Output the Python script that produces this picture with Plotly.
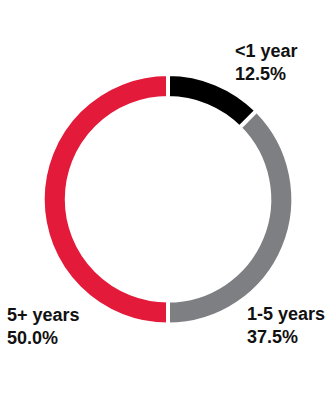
import plotly.graph_objects as go

categories = ["<1 year", "1-5 years", "5+ years"]
values = [12.5, 37.5, 50.0]
colors = ["#000000", "#7E7F83", "#E31A3A"]
label_pos = {  # paper coords for annotations (x left, y middle)
    "<1 year": (0.6935, 0.845),
    "1-5 years": (0.729, 0.1875),
    "5+ years": (0.0149, 0.185),
}

W, H = 336, 400
cx, cy, R = 168, 199.3, 125.3

fig = go.Figure(go.Pie(
    labels=categories,
    values=values,
    hole=0.808,
    sort=False,
    direction="clockwise",
    rotation=0,
    marker=dict(colors=colors, line=dict(color="white", width=4)),
    textinfo="none",
    hoverinfo="skip",
    showlegend=False,
    domain=dict(x=[(cx - R) / W, (cx + R) / W], y=[1 - (cy + R) / H, 1 - (cy - R) / H]),
))

for cat, val in zip(categories, values):
    x, y = label_pos[cat]
    fig.add_annotation(
        text=f"<b>{cat}<br>{val:.1f}%</b>",
        x=x, y=y, xref="paper", yref="paper",
        xanchor="left", yanchor="middle", align="left",
        showarrow=False,
        font=dict(family="Liberation Sans, Arial, sans-serif", size=18, color="#111111"),
    )

fig.update_layout(
    width=W, height=H,
    margin=dict(l=0, r=0, t=0, b=0),
    paper_bgcolor="white", plot_bgcolor="white",
)
fig.write_html("out.html")
